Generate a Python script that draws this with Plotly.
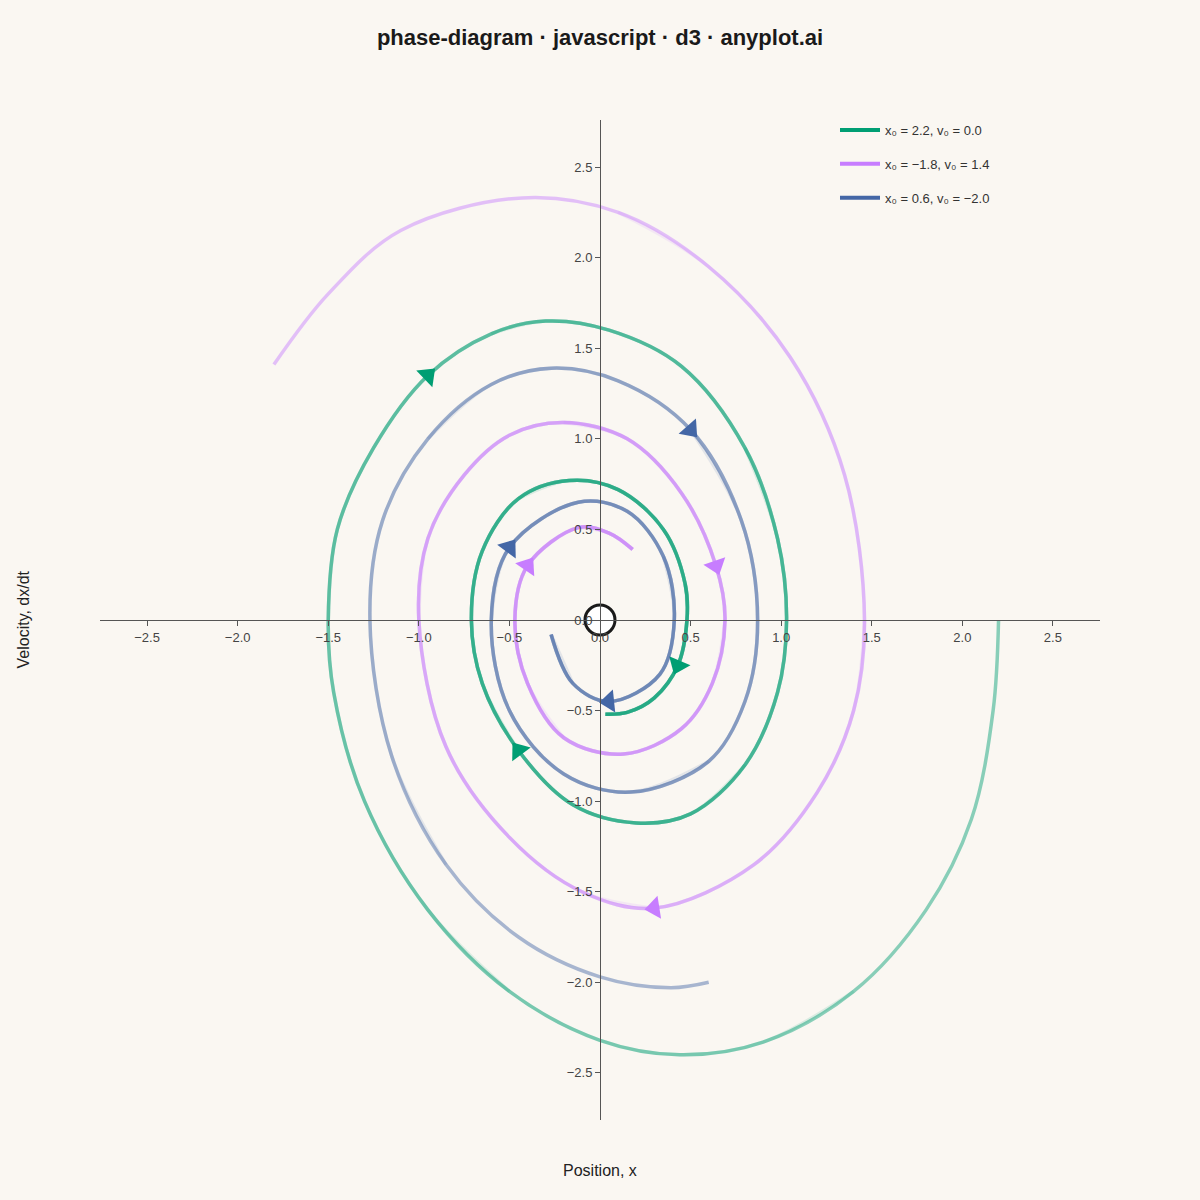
import math
import plotly.graph_objects as go

names = ["x\u2080 = 2.2, v\u2080 = 0.0", "x\u2080 = \u22121.8, v\u2080 = 1.4", "x\u2080 = 0.6, v\u2080 = \u22122.0"]
colors = ["#009E73", "#C77DFF", "#4467A6"]

green_x = [2.2,2.17,2.05,1.8,1.4,0.9,0.44,0.0,-0.5,-0.95,-1.3,-1.47,-1.50,-1.45,-1.25,-0.95,-0.6,-0.3,0.05,0.45,0.8,0.98,1.03,0.98,0.8,0.5,0.2,-0.15,-0.45,-0.65,-0.71,-0.65,-0.45,-0.17,0.1,0.35,0.47,0.48,0.43,0.3,0.15,0.03]
green_y = [0,-0.5,-1.1,-1.6,-2.05,-2.33,-2.40,-2.32,-2.05,-1.6,-1.0,-0.4,0,0.5,0.95,1.35,1.58,1.65,1.6,1.4,0.95,0.45,0,-0.4,-0.8,-1.07,-1.12,-1.02,-0.72,-0.35,0,0.38,0.67,0.77,0.72,0.5,0.2,0,-0.25,-0.43,-0.51,-0.52]
purple_x = [-1.8,-1.5,-1.1,-0.43,0.1,0.6,1.05,1.35,1.46,1.4,1.2,0.85,0.3,-0.1,-0.5,-0.85,-1.0,-0.95,-0.75,-0.5,-0.2,0.15,0.45,0.64,0.69,0.62,0.45,0.13,-0.2,-0.4,-0.47,-0.4,-0.12,0.05,0.18]
purple_y = [1.41,1.8,2.15,2.33,2.25,1.95,1.45,0.8,0,-0.5,-0.95,-1.35,-1.59,-1.5,-1.2,-0.7,0,0.45,0.8,1.02,1.09,1.0,0.7,0.3,0,-0.35,-0.6,-0.74,-0.65,-0.35,0,0.3,0.51,0.48,0.39]
blue_x = [0.6,0.39,0.0,-0.45,-0.85,-1.15,-1.27,-1.2,-0.95,-0.6,-0.27,0.1,0.5,0.78,0.87,0.8,0.6,0.17,-0.2,-0.5,-0.6,-0.5,-0.12,0.15,0.35,0.41,0.33,0.05,-0.15,-0.27]
blue_y = [-2.0,-2.03,-1.97,-1.75,-1.35,-0.75,0,0.55,1.0,1.3,1.39,1.32,1.05,0.55,0,-0.45,-0.78,-0.95,-0.85,-0.5,0,0.4,0.65,0.6,0.35,0,-0.3,-0.45,-0.35,-0.08]
arrow_idx = [[15, 28, 38], [12, 23, 31], [12, 21, 27]]

series = [(green_x, green_y), (purple_x, purple_y), (blue_x, blue_y)]
fig = go.Figure()
for k, ((xs, ys), c) in enumerate(zip(series, colors)):
    n = len(xs)
    fig.add_trace(go.Scatter(x=xs, y=ys, mode="lines", line=dict(color=c, width=3.5, shape="spline", smoothing=1.0),
                             opacity=0.45, showlegend=False, hoverinfo="skip"))
    for s in range(4, n - 1, 4):
        fig.add_trace(go.Scatter(x=xs[s:], y=ys[s:], mode="lines",
                                 line=dict(color=c, width=3.5, shape="spline", smoothing=1.0),
                                 opacity=0.12, showlegend=False, hoverinfo="skip"))
    ax_, ay_, ang_ = [], [], []
    for j in arrow_idx[k]:
        dx = xs[j+1] - xs[j-1]
        dy = ys[j+1] - ys[j-1]
        ax_.append(xs[j]); ay_.append(ys[j])
        ang_.append(math.degrees(math.atan2(dx, dy)))
    fig.add_trace(go.Scatter(x=ax_, y=ay_, mode="markers",
                             marker=dict(symbol="triangle-up", size=20, angle=ang_, color=c),
                             showlegend=False, hoverinfo="skip"))
    fig.add_trace(go.Scatter(x=[None], y=[None], mode="lines", name=names[k], legendgroup=str(k),
                             line=dict(color=c, width=4)))

fig.add_trace(go.Scatter(x=[0], y=[0], mode="markers", showlegend=False,
                         marker=dict(size=30, color="white", line=dict(color="#1a1a1a", width=3))))

ax = dict(range=[-2.76, 2.76], tickvals=[-2.5,-2,-1.5,-1,-0.5,0,0.5,1,1.5,2,2.5],
          ticktext=["\u22122.5","\u22122.0","\u22121.5","\u22121.0","\u22120.5","0.0","0.5","1.0","1.5","2.0","2.5"],
          showgrid=False, zeroline=False, showline=True, linecolor="#555", linewidth=1,
          ticks="outside", ticklen=5, tickcolor="#555", tickfont=dict(size=13, color="#444"),
          anchor="free", position=0.5)
fig.update_layout(
    width=1200, height=1200, paper_bgcolor="#FAF7F2", plot_bgcolor="#FAF7F2",
    margin=dict(l=100, r=100, t=120, b=80),
    font=dict(family="Liberation Sans, Arial, sans-serif"),
    title=dict(text="<b>phase-diagram · javascript · d3 · anyplot.ai</b>", x=0.5, y=0.975,
               xanchor="center", font=dict(size=22, color="#1a1a1a")),
    xaxis=ax, yaxis=ax,
    legend=dict(x=0.735, y=1.005, xanchor="left", yanchor="top", bgcolor="rgba(0,0,0,0)",
                font=dict(size=13, color="#333"), tracegroupgap=14, itemwidth=40),
    annotations=[
        dict(text="Position, x", x=0.5, y=-0.04, xref="paper", yref="paper", showarrow=False,
             font=dict(size=16, color="#222"), yanchor="top"),
        dict(text="Velocity, dx/dt", x=-0.088, y=0.5, xref="paper", yref="paper", showarrow=False,
             textangle=-90, font=dict(size=16, color="#222")),
    ],
)
fig.write_html("out.html", config={"displayModeBar": False}, post_script="document.body.style.margin='0';")
